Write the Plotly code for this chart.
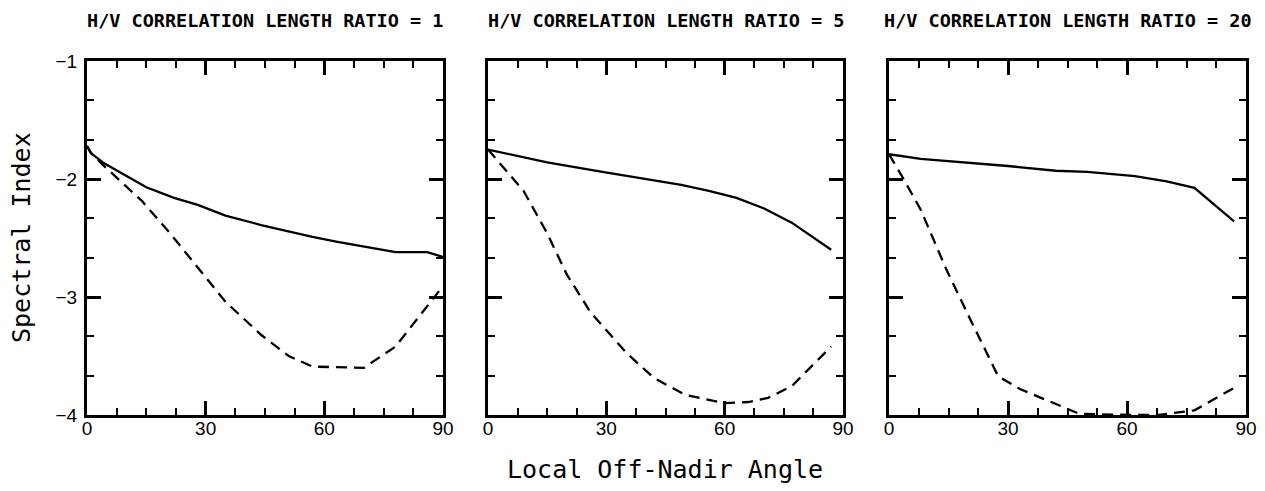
import plotly.graph_objects as go

# ---- data ----
titles = ["H/V CORRELATION LENGTH RATIO = 1",
          "H/V CORRELATION LENGTH RATIO = 5",
          "H/V CORRELATION LENGTH RATIO = 20"]

p1_solid_x = [0, 1, 4, 15, 22, 28, 35, 44, 57, 63, 78, 86, 90]
p1_solid_y = [-1.72, -1.78, -1.86, -2.07, -2.16, -2.22, -2.31, -2.39, -2.49, -2.53, -2.62, -2.62, -2.66]
p1_dash_x = [0, 1, 4, 14, 21, 28, 35, 44, 51, 57, 70, 78, 89]
p1_dash_y = [-1.72, -1.78, -1.88, -2.19, -2.46, -2.75, -3.04, -3.32, -3.50, -3.59, -3.60, -3.42, -2.95]

p2_solid_x = [0, 8, 15, 29, 49, 56, 63, 70, 77, 87]
p2_solid_y = [-1.75, -1.81, -1.86, -1.94, -2.05, -2.10, -2.16, -2.25, -2.37, -2.60]
p2_dash_x = [0, 9, 15, 20, 26, 35, 42, 50, 60, 66, 71, 77, 87]
p2_dash_y = [-1.75, -2.10, -2.46, -2.81, -3.13, -3.47, -3.685, -3.83, -3.90, -3.89, -3.855, -3.756, -3.42]

p3_solid_x = [0, 8, 30, 42, 50, 62, 70, 77, 87]
p3_solid_y = [-1.79, -1.83, -1.89, -1.93, -1.94, -1.975, -2.02, -2.075, -2.36]
p3_dash_x = [0, 3.5, 8, 14.5, 20.5, 27.5, 33, 48, 61, 68, 77, 87]
p3_dash_y = [-1.79, -1.99, -2.26, -2.77, -3.19, -3.67, -3.78, -3.99, -4.0, -4.0, -3.96, -3.77]

x_ticks = [0, 30, 60, 90]
y_ticks = [-4, -3, -2, -1]

panels = [
    (p1_solid_x, p1_solid_y, p1_dash_x, p1_dash_y),
    (p2_solid_x, p2_solid_y, p2_dash_x, p2_dash_y),
    (p3_solid_x, p3_solid_y, p3_dash_x, p3_dash_y),
]

W, H = 1265, 491
ML, MR, MT, MB = 87, 19, 61, 76
pw = W - ML - MR
panel_px = [(87, 443), (488, 843), (889, 1246)]
domains = [[(a - ML) / pw, (b - ML) / pw] for a, b in panel_px]

fig = go.Figure()
for i, (sx, sy, dx, dy) in enumerate(panels):
    suf = "" if i == 0 else str(i + 1)
    fig.add_trace(go.Scatter(x=sx, y=sy, mode="lines",
                             line=dict(color="black", width=2.3),
                             xaxis="x" + suf, yaxis="y" + suf, showlegend=False))
    fig.add_trace(go.Scatter(x=dx, y=dy, mode="lines",
                             line=dict(color="black", width=2.3, dash="11px,7px"),
                             xaxis="x" + suf, yaxis="y" + suf, showlegend=False))

tickfont = dict(family="Liberation Sans, Arial, sans-serif", size=19, color="black")
layout = dict(
    width=W, height=H,
    margin=dict(l=ML, r=MR, t=MT, b=MB),
    plot_bgcolor="white", paper_bgcolor="white",
    showlegend=False,
)
for i in range(3):
    suf = "" if i == 0 else str(i + 1)
    layout["xaxis" + suf] = dict(
        domain=domains[i], range=[0, 90], anchor="y" + suf,
        tickmode="array", tickvals=x_ticks, ticktext=[str(v) for v in x_ticks],
        ticks="inside", ticklen=14, tickwidth=2.5, tickcolor="black",
        minor=dict(ticks="inside", ticklen=7, tickwidth=2, tickcolor="black",
                   tickmode="linear", tick0=0, dtick=7.5, showgrid=False),
        showline=True, linecolor="black", linewidth=3, mirror="allticks",
        showgrid=False, zeroline=False, tickfont=tickfont,
        ticklabelstandoff=-6, automargin=False,
    )
    layout["yaxis" + suf] = dict(
        domain=[0, 1], range=[-4, -1], anchor="x" + suf,
        tickmode="array", tickvals=y_ticks,
        ticktext=["\u22124", "\u22123", "\u22122", "\u22121"],
        showticklabels=(i == 0),
        ticks="inside", ticklen=14, tickwidth=2.5, tickcolor="black",
        minor=dict(ticks="inside", ticklen=7, tickwidth=2, tickcolor="black",
                   tickmode="linear", tick0=-4, dtick=1 / 3, showgrid=False),
        showline=True, linecolor="black", linewidth=3, mirror="allticks",
        showgrid=False, zeroline=False, tickfont=tickfont,
        ticklabelstandoff=3, automargin=False,
    )

ph = H - MT - MB
annotations = []
for i, t in enumerate(titles):
    a, b = panel_px[i]
    annotations.append(dict(
        text=t, xref="paper", yref="paper",
        x=((a + b) / 2 - ML) / pw, y=1 + (MT - 20) / ph,
        xanchor="center", yanchor="middle", showarrow=False,
        font=dict(family="DejaVu Sans Mono, monospace", size=18.5, color="black",
                  weight="bold"),
    ))
annotations.append(dict(
    text="Local Off-Nadir Angle", xref="paper", yref="paper",
    x=(665 - ML) / pw, y=-(469 - (H - MB)) / ph,
    xanchor="center", yanchor="middle", showarrow=False,
    font=dict(family="DejaVu Sans Mono, monospace", size=25, color="black"),
))
annotations.append(dict(
    text="Spectral Index", xref="paper", yref="paper",
    x=-(ML - 21) / pw, y=1 - (238 - MT) / ph,
    xanchor="center", yanchor="middle", showarrow=False, textangle=-90,
    font=dict(family="DejaVu Sans Mono, monospace", size=25, color="black"),
))
layout["annotations"] = annotations

fig.update_layout(**layout)
fig.write_html("out.html", config={"displayModeBar": False},
               post_script="document.body.style.margin='0';")
